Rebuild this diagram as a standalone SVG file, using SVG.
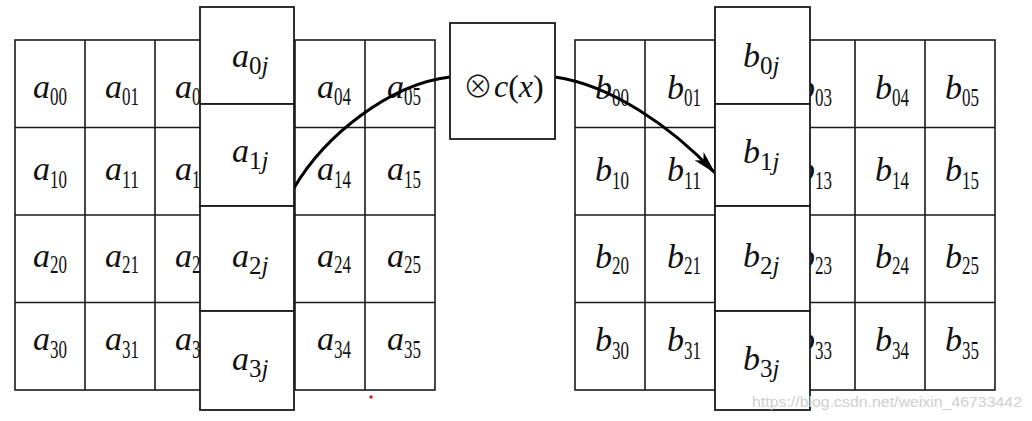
<svg xmlns="http://www.w3.org/2000/svg" width="1032" height="421" viewBox="0 0 1032 421">
<defs>
<style>
.g{fill:none;stroke:#1a1a1a;stroke-width:1.6}
.bx{fill:#fff;stroke:#1a1a1a;stroke-width:1.8}
.m{font-family:"Liberation Serif","Times New Roman",serif;font-size:34px;font-style:italic;fill:#111}
.s{font-size:25px;font-style:normal}
.j{font-style:italic}
.c{fill:none;stroke:#000;stroke-width:3}
.wm{font-family:"Liberation Sans",Arial,sans-serif;font-size:15px;fill:#cfcfcf}
</style>
<marker id="ah" viewBox="0 0 24 12" refX="23" refY="6" markerWidth="24" markerHeight="12" markerUnits="userSpaceOnUse" orient="auto">
<path d="M0,0 L24,6 L0,12 L6,6 Z" fill="#000"/>
</marker>
</defs>
<rect width="1032" height="421" fill="#fff"/>

<g id="matrix-a">
<rect class="g" x="15" y="40" width="420" height="350"/>
<path class="g" d="M15,127.5H435M15,215H435M15,302.5H435M85,40V390M155,40V390M225,40V390M295,40V390M365,40V390"/>
<text class="m" x="33" y="98">a<tspan class="s" dy="7" textLength="17" lengthAdjust="spacingAndGlyphs">00</tspan></text>
<text class="m" x="105" y="98">a<tspan class="s" dy="7" textLength="17" lengthAdjust="spacingAndGlyphs">01</tspan></text>
<text class="m" x="175" y="98">a<tspan class="s" dy="7" textLength="8.5" lengthAdjust="spacingAndGlyphs">0</tspan></text>
<text class="m" x="317" y="98">a<tspan class="s" dy="7" textLength="17" lengthAdjust="spacingAndGlyphs">04</tspan></text>
<text class="m" x="387" y="98">a<tspan class="s" dy="7" textLength="17" lengthAdjust="spacingAndGlyphs">05</tspan></text>
<text class="m" x="33" y="180">a<tspan class="s" dy="8" textLength="17" lengthAdjust="spacingAndGlyphs">10</tspan></text>
<text class="m" x="105" y="180">a<tspan class="s" dy="8" textLength="17" lengthAdjust="spacingAndGlyphs">11</tspan></text>
<text class="m" x="175" y="180">a<tspan class="s" dy="8" textLength="8.5" lengthAdjust="spacingAndGlyphs">1</tspan></text>
<text class="m" x="317" y="180">a<tspan class="s" dy="8" textLength="17" lengthAdjust="spacingAndGlyphs">14</tspan></text>
<text class="m" x="387" y="180">a<tspan class="s" dy="8" textLength="17" lengthAdjust="spacingAndGlyphs">15</tspan></text>
<text class="m" x="33" y="267">a<tspan class="s" dy="6" textLength="17" lengthAdjust="spacingAndGlyphs">20</tspan></text>
<text class="m" x="105" y="267">a<tspan class="s" dy="6" textLength="17" lengthAdjust="spacingAndGlyphs">21</tspan></text>
<text class="m" x="175" y="267">a<tspan class="s" dy="6" textLength="8.5" lengthAdjust="spacingAndGlyphs">2</tspan></text>
<text class="m" x="317" y="267">a<tspan class="s" dy="6" textLength="17" lengthAdjust="spacingAndGlyphs">24</tspan></text>
<text class="m" x="387" y="267">a<tspan class="s" dy="6" textLength="17" lengthAdjust="spacingAndGlyphs">25</tspan></text>
<text class="m" x="33" y="350">a<tspan class="s" dy="8" textLength="17" lengthAdjust="spacingAndGlyphs">30</tspan></text>
<text class="m" x="105" y="350">a<tspan class="s" dy="8" textLength="17" lengthAdjust="spacingAndGlyphs">31</tspan></text>
<text class="m" x="175" y="350">a<tspan class="s" dy="8" textLength="8.5" lengthAdjust="spacingAndGlyphs">3</tspan></text>
<text class="m" x="317" y="350">a<tspan class="s" dy="8" textLength="17" lengthAdjust="spacingAndGlyphs">34</tspan></text>
<text class="m" x="387" y="350">a<tspan class="s" dy="8" textLength="17" lengthAdjust="spacingAndGlyphs">35</tspan></text>
</g>

<g id="matrix-b">
<rect class="g" x="575" y="40" width="420" height="350"/>
<path class="g" d="M575,127.5H995M575,215H995M575,302.5H995M645,40V390M715,40V390M785,40V390M855,40V390M925,40V390"/>
<text class="m" x="595" y="99">b<tspan class="s" dy="7" textLength="17" lengthAdjust="spacingAndGlyphs">00</tspan></text>
<text class="m" x="667" y="99">b<tspan class="s" dy="7" textLength="17" lengthAdjust="spacingAndGlyphs">01</tspan></text>
<text class="m" x="798" y="99">b<tspan class="s" dy="7" textLength="17" lengthAdjust="spacingAndGlyphs">03</tspan></text>
<text class="m" x="875" y="99">b<tspan class="s" dy="7" textLength="17" lengthAdjust="spacingAndGlyphs">04</tspan></text>
<text class="m" x="945" y="99">b<tspan class="s" dy="7" textLength="17" lengthAdjust="spacingAndGlyphs">05</tspan></text>
<text class="m" x="595" y="181">b<tspan class="s" dy="8" textLength="17" lengthAdjust="spacingAndGlyphs">10</tspan></text>
<text class="m" x="667" y="181">b<tspan class="s" dy="8" textLength="17" lengthAdjust="spacingAndGlyphs">11</tspan></text>
<text class="m" x="798" y="181">b<tspan class="s" dy="8" textLength="17" lengthAdjust="spacingAndGlyphs">13</tspan></text>
<text class="m" x="875" y="181">b<tspan class="s" dy="8" textLength="17" lengthAdjust="spacingAndGlyphs">14</tspan></text>
<text class="m" x="945" y="181">b<tspan class="s" dy="8" textLength="17" lengthAdjust="spacingAndGlyphs">15</tspan></text>
<text class="m" x="595" y="268">b<tspan class="s" dy="6" textLength="17" lengthAdjust="spacingAndGlyphs">20</tspan></text>
<text class="m" x="667" y="268">b<tspan class="s" dy="6" textLength="17" lengthAdjust="spacingAndGlyphs">21</tspan></text>
<text class="m" x="798" y="268">b<tspan class="s" dy="6" textLength="17" lengthAdjust="spacingAndGlyphs">23</tspan></text>
<text class="m" x="875" y="268">b<tspan class="s" dy="6" textLength="17" lengthAdjust="spacingAndGlyphs">24</tspan></text>
<text class="m" x="945" y="268">b<tspan class="s" dy="6" textLength="17" lengthAdjust="spacingAndGlyphs">25</tspan></text>
<text class="m" x="595" y="351">b<tspan class="s" dy="8" textLength="17" lengthAdjust="spacingAndGlyphs">30</tspan></text>
<text class="m" x="667" y="351">b<tspan class="s" dy="8" textLength="17" lengthAdjust="spacingAndGlyphs">31</tspan></text>
<text class="m" x="798" y="351">b<tspan class="s" dy="8" textLength="17" lengthAdjust="spacingAndGlyphs">33</tspan></text>
<text class="m" x="875" y="351">b<tspan class="s" dy="8" textLength="17" lengthAdjust="spacingAndGlyphs">34</tspan></text>
<text class="m" x="945" y="351">b<tspan class="s" dy="8" textLength="17" lengthAdjust="spacingAndGlyphs">35</tspan></text>
</g>

<g id="connectors">
<path class="c" d="M294,188 C325,135 390,84 450,77"/>
<path class="c" d="M555,77 C610,85 670,125 715,173" marker-end="url(#ah)"/>
</g>

<g id="a0j"><rect class="bx" x="200" y="7" width="94" height="97"/><text class="m" x="232" y="67">a<tspan class="s" dy="7">0</tspan><tspan class="s j">j</tspan></text></g>
<g id="a1j"><rect class="bx" x="200" y="104" width="94" height="102"/><text class="m" x="232" y="162">a<tspan class="s" dy="7">1</tspan><tspan class="s j">j</tspan></text></g>
<g id="a2j"><rect class="bx" x="200" y="206" width="94" height="105"/><text class="m" x="232" y="267">a<tspan class="s" dy="7">2</tspan><tspan class="s j">j</tspan></text></g>
<g id="a3j"><rect class="bx" x="200" y="311" width="94" height="99"/><text class="m" x="232" y="370">a<tspan class="s" dy="7">3</tspan><tspan class="s j">j</tspan></text></g>

<g id="cx"><rect class="bx" x="450" y="23" width="105" height="116"/>
<text class="m" x="463" y="97" style="font-style:normal;font-size:32px"><tspan font-family="'Noto Sans CJK SC',sans-serif" font-weight="300" font-size="30">⊗</tspan><tspan dx="1" class="j">c</tspan>(<tspan class="j">x</tspan>)</text></g>

<g id="b0j"><rect class="bx" x="715" y="7" width="95" height="97"/><text class="m" x="743" y="67">b<tspan class="s" dy="7">0</tspan><tspan class="s j">j</tspan></text></g>
<g id="b1j"><rect class="bx" x="715" y="104" width="95" height="102"/><text class="m" x="743" y="163">b<tspan class="s" dy="7">1</tspan><tspan class="s j">j</tspan></text></g>
<g id="b2j"><rect class="bx" x="715" y="206" width="95" height="105"/><text class="m" x="743" y="267">b<tspan class="s" dy="7">2</tspan><tspan class="s j">j</tspan></text></g>
<g id="b3j"><rect class="bx" x="715" y="311" width="95" height="99"/><text class="m" x="743" y="370">b<tspan class="s" dy="7">3</tspan><tspan class="s j">j</tspan></text></g>

<circle cx="371" cy="397" r="1.8" fill="#e02020"/>
<text class="wm" x="752" y="407" textLength="270" lengthAdjust="spacingAndGlyphs">https://blog.csdn.net/weixin_46733442</text>
</svg>
